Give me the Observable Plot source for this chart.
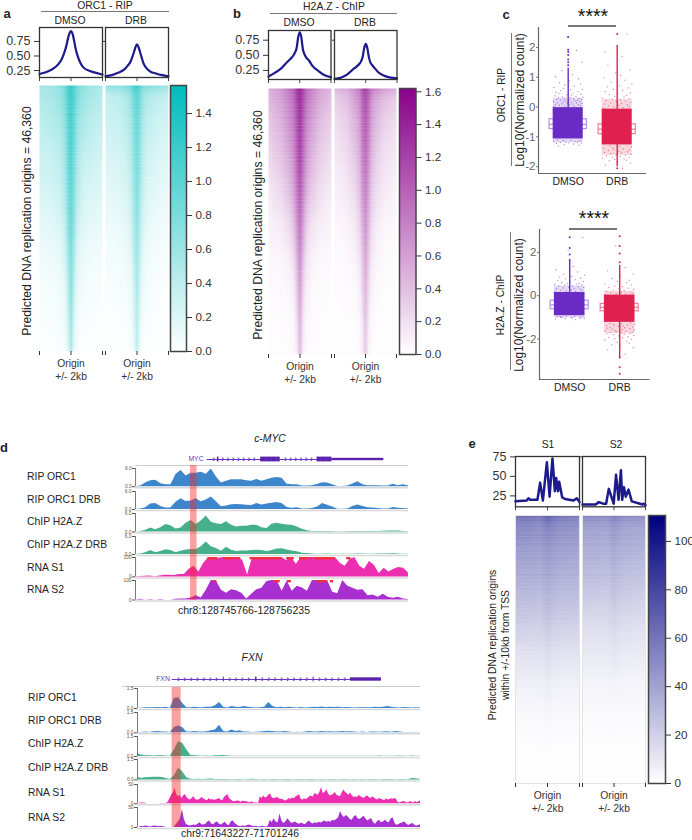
<!DOCTYPE html>
<html><head><meta charset="utf-8">
<style>
html,body{margin:0;padding:0;background:#fff}
#page{position:relative;width:692px;height:840px;overflow:hidden;font-family:"Liberation Sans",Arial,sans-serif;color:#222}
.lb{position:absolute;white-space:pre;line-height:1;transform:translate(-50%,-50%)}
.ln{position:absolute;background:#777}
</style>
<script src="https://cdn.jsdelivr.net/npm/d3@7"></script>
<script src="https://cdn.jsdelivr.net/npm/@observablehq/plot@0.6"></script>
</head><body><div id="page"></div>
<script>
// ---------- profile values ----------
const profX=[-2000,-1600,-1200,-800,-600,-400,-300,-200,-100,0,100,200,300,400,600,800,1200,1600,2000];
const orcDmsoProf=[.19,.22,.27,.36,.44,.58,.67,.79,.89,.93,.88,.76,.62,.52,.38,.30,.24,.21,.18];
const orcDrbProf=[.15,.17,.21,.27,.33,.41,.48,.56,.65,.70,.65,.56,.47,.38,.29,.24,.20,.17,.15];
const h2aDmsoProf=[.15,.21,.28,.39,.44,.50,.55,.62,.80,.88,.80,.60,.52,.47,.41,.33,.24,.17,.14];
const h2aDrbProf=[.11,.13,.18,.27,.31,.36,.40,.47,.62,.69,.62,.47,.38,.34,.28,.22,.16,.13,.12];
const s1ProfX=[-2000,-1300,-1190,-1090,-630,-460,-290,-40,130,310,460,540,660,730,920,1100,1630,1830,2000];
const s1Prof=[18,19,22,20,20,42,19,68,24,73,31,48,31,43,23,21,19,22,17];
const s2ProfX=[-2000,-1170,-960,-690,-500,-330,-20,130,290,440,520,630,750,920,1130,1810,1900,2000];
const s2Prof=[14,14,17,15,15,34,15,52,20,58,20,36,24,33,18,14,15,13];
const profTicks=[.25,.5,.75], s1Ticks=[25,50,75];

// ---------- heatmap grids (rows top to bottom, columns across the window) ----------
const heatX=[-2000,-1200,-700,-400,-200,0,200,400,700,1200,2000];
const heatRow=[0,.04,.12,.25,.38,.5,.62,.75,.88,1];
const orcDmsoHeat=[
[.55,.6,.7,.85,1.15,1.25,1.1,.85,.7,.6,.5],[.5,.55,.65,.8,1.1,1.2,1.05,.8,.65,.55,.45],
[.42,.48,.55,.7,1.0,1.15,.95,.68,.55,.45,.38],[.32,.36,.42,.58,.9,1.08,.85,.55,.4,.34,.28],
[.25,.28,.34,.5,.8,1.0,.75,.45,.3,.25,.2],[.17,.2,.25,.38,.7,.92,.65,.35,.22,.17,.14],
[.1,.12,.16,.26,.55,.82,.5,.22,.14,.1,.08],[.06,.07,.1,.16,.42,.72,.36,.14,.08,.06,.05],
[.04,.04,.06,.09,.28,.62,.22,.08,.05,.04,.03],[.02,.02,.03,.05,.15,.5,.12,.04,.02,.02,.02]];
const orcDrbHeat=[
[.65,.7,.8,.9,1.1,1.2,1.0,.8,.75,.7,.6],[.38,.42,.5,.65,.9,1.0,.85,.6,.5,.42,.36],
[.32,.36,.42,.55,.8,.92,.75,.5,.4,.33,.28],[.24,.27,.32,.45,.7,.85,.65,.4,.3,.25,.2],
[.17,.2,.24,.36,.6,.78,.55,.32,.22,.18,.14],[.11,.13,.17,.27,.5,.7,.45,.24,.15,.11,.09],
[.07,.08,.11,.18,.4,.6,.35,.16,.1,.07,.05],[.04,.05,.07,.11,.28,.52,.25,.1,.06,.04,.03],
[.03,.03,.04,.07,.2,.45,.16,.06,.04,.03,.02],[.01,.01,.02,.04,.12,.38,.09,.03,.02,.01,.01]];
const h2aDmsoHeat=[
[.5,.65,.85,1.0,1.25,1.4,1.2,.95,.8,.6,.45],[.45,.6,.8,.95,1.2,1.35,1.15,.9,.75,.55,.4],
[.35,.5,.7,.85,1.1,1.3,1.05,.8,.65,.45,.3],[.25,.38,.55,.72,1.0,1.2,.95,.68,.5,.33,.2],
[.15,.25,.4,.58,.85,1.05,.8,.52,.35,.22,.13],[.08,.14,.24,.4,.68,.9,.62,.35,.2,.12,.07],
[.05,.07,.12,.24,.5,.75,.44,.2,.1,.06,.04],[.03,.04,.06,.12,.34,.6,.28,.1,.05,.03,.02],
[.02,.02,.03,.06,.2,.5,.16,.05,.03,.02,.01],[.01,.01,.02,.03,.12,.42,.08,.03,.02,.01,.01]];
const h2aDrbHeat=[
[.45,.55,.7,.85,1.1,1.25,1.05,.85,.75,.6,.5],[.3,.42,.6,.72,1.0,1.15,.95,.7,.55,.42,.32],
[.22,.32,.48,.62,.9,1.05,.85,.6,.45,.3,.22],[.14,.22,.35,.5,.78,.95,.72,.47,.32,.2,.14],
[.08,.14,.24,.38,.65,.82,.6,.35,.22,.13,.08],[.05,.08,.14,.26,.52,.7,.47,.24,.13,.07,.05],
[.03,.05,.08,.16,.38,.58,.34,.15,.07,.04,.03],[.02,.03,.04,.09,.26,.48,.22,.08,.04,.02,.02],
[.01,.02,.02,.05,.16,.4,.12,.04,.02,.01,.01],[.01,.01,.01,.03,.1,.34,.07,.02,.01,.01,.01]];
const s1Heat=[
[62,62,60,60,65,70,66,62,60,58,56],[52,52,50,50,53,56,54,52,50,49,48],
[44,44,43,43,45,47,45,44,43,42,41],[34,34,33,33,35,37,35,34,33,32,32],
[24,24,23,23,25,27,25,24,23,23,22],[14,14,14,14,15,17,15,14,14,13,13],
[7,7,7,7,8,9,8,7,7,6.5,6.5],[2.5,2.5,2.5,2.5,3,3.5,3,2.5,2.5,2.5,2.5],
[.8,.8,.8,.8,1,1,1,.8,.8,.8,.8],[.2,.2,.2,.2,.2,.2,.2,.2,.2,.2,.2]];
const s2Heat=[
[52,52,50,50,54,58,54,52,50,50,48],[42,42,41,41,44,46,44,42,41,40,40],
[36,36,35,35,37,39,37,36,35,34,34],[27,27,26,26,28,30,28,27,26,25,25],
[17,17,17,17,18,20,18,17,17,16,16],[10,10,10,10,11,12,11,10,10,9.5,9.5],
[5,5,5,5,5.5,6,5.5,5,5,4.5,4.5],[2,2,2,2,2,2.5,2,2,2,2,2],
[.6,.6,.6,.6,.7,.7,.7,.6,.6,.6,.6],[.1,.1,.1,.1,.1,.1,.1,.1,.1,.1,.1]];
const stripeRows=[.013,.024,.033,.047,.058,.066,.079,.092,.101,.118,.127,.139,.151,.166,.174,.189,.203,.212,.228,.241,.252,.267,.281,.293,.304,.322,.337,.346,.361,.378,.392,.409,.421,.438,.452,.473,.491,.507,.526,.548,.571,.596,.623,.652,.688,.731];

// ---------- colour bar ticks ----------
const orcBarTicks=[0,.2,.4,.6,.8,1,1.2,1.4];
const h2aBarTicks=[0,.2,.4,.6,.8,1,1.2,1.4,1.6];
const rnaBarTicks=[0,20,40,60,80,100];

// ---------- scatter panels: summary [q1, median, q3], solid block [low, high], dense fringe [low, high] ----------
const groups=["DMSO","DRB"];
const orcBox=[[-.74,-.58,-.41],[-.91,-.74,-.58]];
const orcBlock=[[-1.07,-.02],[-1.27,-.07]];
const orcFringe=[[-1.2,.3],[-1.62,.25]];
const h2aBox=[[-.62,-.42,-.23],[-.72,-.54,-.38]];
const h2aBlock=[[-.92,.15],[-1.23,.03]];
const h2aFringe=[[-1.02,.45],[-1.75,.2]];
const jitter=[-.29,.12,-.07,.25,-.18,.03,.21,-.26,.09,-.13,.28,-.02,.17,-.22,.06,-.1,.24,-.3,.14,-.05,.19,-.16,.01,.27,-.24,.11,-.08,.22,-.2,.04,.3,-.12,.16,-.27,.07,-.03,.26,-.19,.1,-.25,.2,-.15,.05,.29,-.09];
const orcDmsoDots=[.02,.03,.04,.05,.06,.07,.08,.09,.1,.11,.12,.13,.14,.15,.16,.17,.18,.19,.2,.21,.22,.23,.24,.25,.26,.27,.28,.29,.3,.31,.33,.34,.36,.38,.4,.41,.43,.45,.47,.5,.52,.55,.58,.6,.63,.66,.7,.74,.78,.82,.88,.95,1.02,1.1,1.22,1.5,2.35,1.9,-1.1,-1.12,-1.13,-1.14,-1.15,-1.16,-1.17,-1.18,-1.19,-1.2,-1.21,-1.22,-1.24,-1.26,-1.28,-1.3];
const orcDrbDots=[-.04,-.02,0,.02,.04,.06,.08,.1,.12,.14,.16,.18,.2,.22,.24,.26,.28,.3,.33,.36,.39,.42,.45,.48,.52,.56,.6,.64,.68,.72,.78,.84,.9,.98,1.06,1.15,1.25,1.4,1.7,1.85,2.45,-1.3,-1.32,-1.34,-1.36,-1.38,-1.4,-1.42,-1.44,-1.46,-1.48,-1.5,-1.52,-1.54,-1.56,-1.58,-1.6,-1.62,-1.64,-1.66,-1.68,-1.7,-1.72,-1.74,-1.76,-1.78,-1.8,-1.84,-1.88,-1.95,-2.05];
const h2aDmsoDots=[.18,.2,.22,.24,.26,.28,.3,.32,.34,.36,.38,.4,.42,.44,.46,.48,.5,.52,.54,.56,.58,.6,.63,.66,.7,.74,.78,.82,.86,.9,.95,1,1.1,1.2,1.35,2.1,2.7,-.95,-.96,-.97,-.98,-1,-1.02,-1.04,-1.06,-1.08,-1.1,-.95,-.97,-.99,-1.01,-1.05];
const h2aDrbDots=[.06,.08,.1,.12,.14,.16,.18,.2,.23,.26,.29,.32,.35,.38,.42,.46,.5,.55,.6,.66,.72,.8,.9,1,1.15,1.3,2.3,-1.26,-1.28,-1.3,-1.32,-1.34,-1.36,-1.38,-1.4,-1.42,-1.44,-1.46,-1.48,-1.5,-1.52,-1.54,-1.56,-1.58,-1.6,-1.62,-1.64,-1.66,-1.68,-1.7,-1.72,-1.74,-1.76,-1.78,-1.8,-1.83,-1.86,-1.89,-1.92,-1.95,-1.98,-2.02,-2.06,-2.1,-2.15,-2.2,-2.26,-2.32,-2.4,-2.5,-2.7];
const orcDmsoSpineDots=[1.4,1.5,1.6,1.75,1.85,1.92,2.35];
const orcDrbSpineDots=[2.05,2.45,-2.05];
const h2aDmsoSpineDots=[1.65,1.9,2.2,2.7];
const h2aDrbSpineDots=[1.55,1.95,2.3,2.75,-2.85,-3.3,-3.6];
const stars="****";

// ---------- genome tracks ----------
const mycStart=128745766, mycEnd=128756235, fxnStart=71643227, fxnEnd=71701246;
const mycHi=[2.11,2.36], fxnHi=[7.1,8.96];
const mycRip=[0,.2,1.2,2,2.1,1,.6,.6,4,5.3,3.5,4.4,4.4,4.8,4.1,5.8,3.2,1.2,1.8,2.3,2.3,2.3,2,1.8,2.4,1.8,2.3,2.8,3,2.8,.8,.6,.6,.2,.2,.3,.7,1.3,1.2,.6,.1,.1,.2,.9,1.6,.6,.3,.3,.3,.2,.2,.8,.3,.6,.3];
const mycRipDrb=[0,.2,.6,1.8,2,1,.5,.5,2.4,3.6,2.7,2.8,3.6,2.6,3.2,4.2,2.6,.9,1.2,1.6,1.7,1.6,1.4,1.3,2,1.5,1.8,2.1,2.3,2,.7,.4,.6,.2,.2,.3,.8,2,1.4,.8,.1,.05,.2,1,1.5,1,.6,.5,.3,.2,.2,.7,.4,.3,.2];
const mycChip=[0,.2,.5,1.3,.7,1.4,2.4,2,1,1.3,2.8,3.7,2.4,3.6,5.2,3.2,2.7,2.4,3.3,2.2,1.6,1.9,1.9,2.2,2.2,1.4,1.1,2.5,2.8,2.5,2.3,2.2,1.6,.9,.4,.2,.2,.2,.2,.15,.1,.1,.15,.2,.2,.2,.15,.15,.2,.25,.3,.35,.3,.15,.1];
const mycChipDrb=[0,.2,.6,1.3,.6,1,1.6,1.3,.6,1.1,1.5,1.7,1.7,2.6,4.2,2.6,2,1.1,2.4,1.4,1,1.2,1.2,1.3,1.4,1.3,1,1.3,1.8,1.9,1.5,1.2,.9,.4,.3,.2,.1,.1,.15,.1,.1,.05,.1,.1,.15,.15,.1,.1,.15,.2,.2,.25,.2,.1,.05];
const mycS1=[1,2,3,4,1,5,8,8,7,12,12,40,55,25,70,100,100,95,100,100,100,100,85,10,100,100,100,100,100,100,100,85,100,65,100,100,100,100,100,100,100,100,70,55,90,100,55,40,80,60,18,45,25,40,48,45,20];
const mycS2=[0,4,0,3,0,3,0,0,4,5,5,10,22,10,50,100,98,50,35,52,48,35,5,30,53,60,95,100,100,45,97,45,70,62,45,100,100,100,100,40,32,100,70,60,50,52,22,26,14,30,14,9,14,5,2];
const mycS1Clip=[[2.78,3.16],[3.37,3.78],[3.86,4.04],[4.39,5.60],[5.80,6.09],[6.29,6.60],[6.66,6.77],[6.88,7.65],[8.10,8.26]];
const mycS2Clip=[[2.99,3.12],[5.29,5.55],[5.83,5.98],[6.96,7.34],[7.47,7.6]];
const fxnRip=[0,.02,.05,.05,.05,.08,.05,.1,.02,.75,.8,.4,.05,.05,.1,.06,.05,.1,.1,.2,.45,.1,.03,.15,.1,.08,.15,.1,.05,.03,.05,.1,.45,.15,.05,.1,.05,.1,.05,.03,.08,.03,.05,.1,.08,.12,.06,.1,.08,.1,.05,.08,.06,.03,.05,.06,.05,.05,.1,.08,.1,.15,.1,.05,.03,.08,.05,.04,.05,.03];
const fxnRipDrb=[.02,.03,.05,.03,.08,.1,.05,.05,.03,.4,.5,.4,.05,.06,.1,.06,.05,.08,.15,.2,.55,.1,.05,.2,.1,.15,.06,.05,.03,.04,.05,.1,.12,.1,.06,.05,.1,.05,.03,.04,.03,.05,.1,.06,.05,.1,.06,.08,.05,.06,.1,.06,.08,.05,.03,.05,.03,.05,.06,.04,.05,.08,.04,.1,.05,.03,.03,.02,.03,.02];
const fxnChip=[.2,.12,.05,.06,.04,.05,.05,.03,.02,.5,1.1,1.0,.5,.08,.06,.03,.02,.03,.02,.05,.06,.07,.03,.02,.01,.02,.01,.02,.01,.02,.02,.01,.02,.01,.02,.02,.01,.02,.02,.01,.02,.01,.01,.02,.01,.02,.02,.01,.02,.02,.01,.02,.01,.01,.02,.02,.01,.02,.01,.03,.02,.01,.02,.02,.03,.02,.01,.03,.02,.02];
const fxnChipDrb=[.15,.12,.15,.18,.2,.2,.18,.1,.03,.3,.85,.6,.15,.05,.03,.05,.02,.04,.06,.03,.03,.02,.02,.01,.02,.02,.01,.02,.05,.02,.01,.02,.01,.02,.02,.01,.03,.02,.01,.02,.02,.01,.02,.02,.01,.02,.01,.02,.02,.01,.03,.02,.01,.02,.01,.02,.01,.02,.02,.01,.02,.03,.02,.01,.02,.02,.01,.1,.08,.03];
const fxnS1=[1,1,2,2,2,1,0,0,0,0,0,0,0,0,1,1,1,1,4,13,22,28,40,24,18,22,14,20,24,16,12,10,14,18,12,9,10,13,16,12,10,8,14,10,11,9,10,12,14,9,8,16,20,24,14,10,6,5,6,8,6,4,7,5,6,4,3,5,3,2,2,1,18,14,20,15,17,22,26,16,13,15,16,14,11,12,9,7,10,14,12,15,13,18,20,24,12,9,13,11,14,18,20,17,27,24,22,30,42,26,30,36,26,20,22,24,30,22,20,18,28,36,30,26,22,28,20,16,18,16,22,18,16,14,18,20,16,14,18,15,12,10,14,12,10,8,13,10,11,13,12,14,11,3,3,4,6,5,3,2,6,4,2,6,3,5,7];
const fxnS2=[0,0,3,2,4,3,2,1,3,4,3,2,3,2,1,0,0,0,0,1,8,14,22,45,20,8,5,4,5,6,5,8,12,7,6,8,14,16,9,7,12,14,8,6,10,13,7,5,14,17,10,6,3,2,4,3,4,6,5,3,2,3,1,2,3,2,1,3,18,12,22,14,12,34,16,10,14,22,16,10,12,14,10,8,11,9,7,12,16,11,9,12,10,13,11,14,16,13,15,13,18,16,20,24,40,30,25,30,26,20,18,26,30,22,20,24,28,22,16,20,22,12,8,15,18,12,14,18,14,12,22,24,10,5,8,10,12,14,8,5,8,10,6,3,5,7];
const mycExons=[[3.14,3.2,2],[4.8,5.55,2],[6.96,7.53,2],[7.53,9.52,1]];
const mycGene=[2.75,9.52];
const mycChevrons=[3.0,3.35,3.55,3.75,3.95,4.15,4.35,4.55,5.0,5.2,5.4,5.75,5.95,6.15,6.35,6.55,6.75,7.1,7.3];
const fxnExons=[[17.6,17.8,2],[24.2,24.5,2],[36,36.2,2],[43.65,50,1.4]];
const fxnGene=[7.1,50];
const fxnChevrons=[8.4,9.7,11,12.3,13.6,14.9,16.2,18.9,20.2,21.5,22.8,25.6,26.9,28.2,29.5,30.8,32.1,33.4,34.7,37.3,38.6,39.9,41.2,42.5];

const trackLabels=["RIP ORC1","RIP ORC1 DRB","ChIP H2A.Z","ChIP H2A.Z DRB","RNA S1","RNA S2"];

// ---------- layout helpers ----------
const page=document.getElementById("page");
const FONT='"Liberation Sans",Arial,sans-serif';
function put(x0,y0,x1,y1,o,m={}){
  const {l=0,r=0,t=0,b=0}=m;
  const p=Plot.plot({width:x1-x0+l+r,height:y1-y0+t+b,marginLeft:l,marginRight:r,marginTop:t,marginBottom:b,
    style:{position:"absolute",left:(x0-l)+"px",top:(y0-t)+"px",background:"transparent",overflow:"visible",fontFamily:FONT,maxWidth:"none"},
    ...o,x:{axis:null,...o.x},y:{axis:null,...o.y}});
  page.appendChild(p);return p;
}
function text(s,x,y,{size=10.4,rot=0,bold=false,italic=false,color="#222",left=false}={}){
  const d=document.createElement("div");d.className="lb";d.textContent=s;
  d.style.left=x+"px";d.style.top=y+"px";d.style.fontSize=size+"px";d.style.color=color;
  if(bold)d.style.fontWeight="700";if(italic)d.style.fontStyle="italic";
  if(rot)d.style.transform=`translate(-50%,-50%) rotate(${rot}deg)`;
  if(left)d.style.transform="translate(0,-50%)";
  page.appendChild(d);
}
function line(x,y,w,h,c){const d=document.createElement("div");d.className="ln";
  d.style.cssText=`left:${x}px;top:${y}px;width:${w}px;height:${h}px`+(c?`;background:${c}`:"");page.appendChild(d);}

const LINE="#1c1a8c";
function profile(x0,y0,x1,y1,xs,ys,dom,ticks,labelled,fmt,sw=2.2){
  put(x0,y0,x1,y1,{x:{domain:[-2000,2000]},y:{domain:dom},
    marks:[
      Plot.line(xs.map((x,i)=>({x,y:ys[i]})),{x:"x",y:"y",stroke:LINE,strokeWidth:sw,curve:sw<2.4?"monotone-x":"linear"}),
      Plot.axisX([-2000,0,2000],{tickSize:4,tickFormat:()=>"",label:null,stroke:"#444"}),
      labelled?Plot.axisY(ticks,{tickSize:5,tickFormat:fmt,fontSize:12.5,label:null,stroke:"#333",fill:"#333",tickPadding:4})
              :Plot.axisY([ticks[ticks.length-1]],{tickSize:2,tickFormat:()=>"",label:null,stroke:"#333"}),
      Plot.frame({stroke:"#333",strokeWidth:1.3})
    ]},{l:38,b:6,r:2});
}
function heat(x0,y0,x1,y1,matrix,max,col,edge){
  const pts=matrix.flatMap((row,j)=>row.map((v,i)=>({x:heatX[i],y:heatRow[j],v})));
  put(x0,y0,x1,y1,{x:{domain:[-2000,2000]},y:{domain:[1,0]},
    color:{type:"linear",domain:[0,max],range:["white",col]},
    marks:[
      Plot.raster(pts,{x:"x",y:"y",fill:"v",interpolate:"barycentric",x1:-2000,x2:2000,y1:0,y2:1}),
      Plot.ruleY(stripeRows,{stroke:"white",strokeOpacity:.1}),
      edge?Plot.frame({stroke:"#e4e4e4",strokeWidth:1}):null,
      Plot.axisX([-2000,0,2000],{tickSize:4,tickPadding:3,fontSize:10.3,label:null,stroke:"#333",fill:"#333",lineHeight:1.2,
        tickFormat:d=>d===0?"Origin\n+/- 2kb":""}),
    ]},{b:34,l:1,r:1});
}
function colorBar(x0,y0,x1,y1,max,col,ticks,fmt){
  put(x0,y0,x1,y1,{x:{domain:[0,1]},y:{domain:[0,max]},
    color:{type:"linear",domain:[0,max],range:["white",col]},
    marks:[
      Plot.raster({fill:(x,y)=>y,x1:0,x2:1,y1:0,y2:max}),
      Plot.frame({stroke:"#444",strokeWidth:1.5}),
      Plot.axisY(ticks,{anchor:"right",tickSize:5,tickPadding:4,fontSize:11.7,label:null,stroke:"#333",fill:"#333",tickFormat:fmt}),
    ]},{r:30,t:4,b:6,l:1});
}
function scatter(x0,y0,x1,y1,xDom,yDom,yTicks,box,block,fringe,dots,spineMarks,cols,pale){
  const pos=[1,2];
  const w=.306, bw=.38;
  const bx=groups.map((g,i)=>({x1:pos[i]-bw,x2:pos[i]+bw,q1:box[i][0],q3:box[i][2],med:box[i][1],c:pale[i]}));
  const bl=groups.map((g,i)=>({x1:pos[i]-w,x2:pos[i]+w,lo:block[i][0],hi:block[i][1],c:cols[i]}));
  const fr=groups.map((g,i)=>({x1:pos[i]-w,x2:pos[i]+w,lo:fringe[i][0],hi:fringe[i][1],c:cols[i]}));
  const pts=dots.flatMap((list,i)=>list.map((y,k)=>({x:pos[i]+jitter[k%jitter.length],y,c:cols[i]})));
  put(x0,y0,x1,y1,{x:{domain:xDom},y:{domain:yDom},color:{type:"identity"},
    marks:[
      Plot.rect(bx,{x1:"x1",x2:"x2",y1:"q1",y2:"q3",fill:"white",stroke:"c",strokeWidth:1.2}),
      Plot.ruleY(bx,{x1:"x1",x2:"x2",y:"med",stroke:"c",strokeWidth:1.2}),
      Plot.rect(fr,{x1:"x1",x2:"x2",y1:"lo",y2:"hi",fill:"c",fillOpacity:.18}),
      Plot.dot(pts,{x:"x",y:"y",r:.65,fill:"c",fillOpacity:.6}),
      Plot.rect(bl,{x1:"x1",x2:"x2",y1:"lo",y2:"hi",fill:"c"}),
      ...spineMarks,
      Plot.axisY(yTicks,{tickSize:2,fontSize:11.5,label:null,stroke:"#777",fill:"#666",tickPadding:1,tickFormat:d=>String(d)}),
      Plot.axisX(pos,{tickSize:0,tickPadding:4,fontSize:10.5,label:null,fill:"#222",tickFormat:d=>groups[d-1]}),
      Plot.ruleX([xDom[0]],{stroke:"#666",strokeWidth:1.2}),
      Plot.ruleY([yDom[0]],{stroke:"#666",strokeWidth:1.2}),
    ]},{l:20,b:16,r:2});
}
function area(values,span){
  const n=values.length-1;
  return values.map((v,i)=>({x:i/n*span,y:v}));
}
function track(x0,x1,top,base,values,span,max,color,clip){
  put(x0,top,x1,base,{x:{domain:[0,span]},y:{domain:[0,max]},
    marks:[
      Plot.ruleY([0],{stroke:"#d8d8d8",strokeWidth:1.5,dy:1}),
      Plot.areaY(area(values,span),{x:"x",y:"y",fill:color}),
      clip?Plot.rect(clip,{x1:d=>d[0],x2:d=>d[1],y1:max*.88,y2:max,fill:"#f2303a"}):null,
      Plot.ruleX([0],{stroke:"#555",strokeWidth:.8}),
      Plot.axisY([0,max],{tickSize:3,tickPadding:1,fontSize:4.8,label:null,stroke:"#555",fill:"#555",
        tickFormat:d=>max<10?d.toFixed(1):String(d)}),
    ]},{l:16,b:2,t:2});
}
function gene(x0,x1,y,span,g,exons,chev){
  put(x0,y-4,x1,y+4,{x:{domain:[0,span]},y:{domain:[-1,1]},
    marks:[
      Plot.ruleY([0],{x1:g[0],x2:g[1],stroke:"#6a35c4",strokeWidth:1}),
      Plot.rect(exons,{x1:d=>d[0],x2:d=>d[1],y1:d=>-d[2]*.3,y2:d=>d[2]*.3,fill:"#5a22ad"}),
      Plot.text(chev,{x:d=>d,y:()=>0,text:()=>"›",fill:"#6a35c4",fontSize:9,fontWeight:700}),
    ]});
}
function highlight(x0,x1,top,base,span,hi){
  put(x0,top,x1,base,{x:{domain:[0,span]},y:{domain:[0,1]},
    marks:[Plot.rect([hi],{x1:d=>d[0],x2:d=>d[1],y1:0,y2:1,fill:"#f52c2c",fillOpacity:.45})]});
}

// ---------- panel a ----------
const fmt2=d=>d.toFixed(2), fmt1=d=>d.toFixed(1);
const TEAL="#00bcbc", MAG="#8b008b", NAVY="#000080";
text("a",7,13,{size:13,bold:true});
text("ORC1 - RIP",105,5.5);line(41,11,128,1);
text("DMSO",70,21);text("DRB",136,21);
const orcDom=[.13,.99];
profile(39,27,102,77,profX,orcDmsoProf,orcDom,profTicks,true,fmt2);
profile(104.5,27,167.5,77,profX,orcDrbProf,orcDom,profTicks,false,fmt2);
heat(39,85,102,351,orcDmsoHeat,1.565,TEAL);
heat(105,85,168,351,orcDrbHeat,1.565,TEAL);
colorBar(170,85,186,351,1.565,TEAL,orcBarTicks,fmt1);
text("Predicted DNA replication origins = 46,360",27,221,{size:12.2,rot:-90});

// ---------- panel b ----------
text("b",237,13,{size:13,bold:true});
text("H2A.Z - ChIP",334,6.5);line(270,13,127,1);
text("DMSO",299,23);text("DRB",365,23);
const h2aDom=[.10,.91];
profile(268,30,330.5,79,profX,h2aDmsoProf,h2aDom,profTicks,true,fmt2);
profile(333.5,30,396,79,profX,h2aDrbProf,h2aDom,profTicks,false,fmt2);
heat(268,88,331,354,h2aDmsoHeat,1.62,MAG);
heat(334,88,396,354,h2aDrbHeat,1.62,MAG);
colorBar(398.5,88,415,354,1.62,MAG,h2aBarTicks,fmt1);
text("Predicted DNA replication origins = 46,360",258,225,{size:12.2,rot:-90});

// ---------- panel c ----------
const PUR="#6a2bc4", RED="#e0214f", PUR2="#b592e0", RED2="#ef7f9a";
text("c",506,14,{size:13,bold:true});
text(stars,593,17,{size:19.5,color:"#111"});line(568,25,48,1.5);
text("ORC1 - RIP",502,95,{size:10.2,rot:-90});line(511,33,1,133);
text("Log10(Normalized count)",521,100,{size:11.9,rot:-90});
const spineOrc=[
  Plot.ruleX([1],{y1:-.02,y2:1.3,stroke:PUR,strokeWidth:1.4}),
  Plot.dot(orcDmsoSpineDots,{x:()=>1,y:d=>d,r:1,fill:PUR}),
  Plot.ruleX([2],{y1:-2,y2:2,stroke:RED,strokeWidth:1.4}),
  Plot.dot(orcDrbSpineDots,{x:()=>2,y:d=>d,r:1,fill:RED}),
];
scatter(538,27,646,173,[.394,2.598],[-2.23,2.67],[-2,-1,0,1,2],orcBox,orcBlock,orcFringe,[orcDmsoDots,orcDrbDots],spineOrc,[PUR,RED],[PUR2,RED2]);

text(stars,594,219,{size:19.5,color:"#111"});line(569,228,48,1.5);
text("H2A.Z - ChIP",501,305,{size:10.2,rot:-90});line(510,232,1,138);
text("Log10(Normalized count)",520,305,{size:11.9,rot:-90});
const spineH2a=[
  Plot.ruleX([1],{y1:.15,y2:1.6,stroke:PUR,strokeWidth:1.4}),
  Plot.dot(h2aDmsoSpineDots,{x:()=>1,y:d=>d,r:1,fill:PUR}),
  Plot.ruleX([2],{y1:-2.85,y2:1.4,stroke:RED,strokeWidth:1.4}),
  Plot.dot(h2aDrbSpineDots,{x:()=>2,y:d=>d,r:1,fill:RED}),
];
scatter(538.5,229,649,379,[.396,2.606],[-3.87,3.06],[-2,0,2],h2aBox,h2aBlock,h2aFringe,[h2aDmsoDots,h2aDrbDots],spineH2a,[PUR,RED],[PUR2,RED2]);

// ---------- panel d ----------
const BLUE="#3d86cb", GRN="#46b08b", PINK="#ec2fb0", VIO="#a82fd0";
text("d",4,447,{size:13,bold:true});
text("c-MYC",270,439,{size:10.4,italic:true});
const mycSpan=(mycEnd-mycStart)/1000;
text("MYC",196,459,{size:6.8,color:"#6a35c4"});
gene(135,408,459,mycSpan,mycGene,mycExons,mycChevrons);
line(135,465,273,.8,"#ccc");
const mycY=[[468.3,486.5],[491,509],[513,531.5],[536,554],[557.3,576.7],[580,599.5]];
const mycData=[mycRip,mycRipDrb,mycChip,mycChipDrb,mycS1,mycS2];
const mycLabelY=[477,500,522,545,568,590];
const trackCol=[BLUE,BLUE,GRN,GRN,PINK,VIO];
mycData.forEach((v,i)=>{
  track(135,408,mycY[i][0],mycY[i][1],v,mycSpan,i<4?6:100,trackCol[i],i==4?mycS1Clip:i==5?mycS2Clip:null);
  text(trackLabels[i],27,mycLabelY[i],{left:true});
});
highlight(135,408,464.7,599.5,mycSpan,mycHi);
text(`chr8:${mycStart}-${mycEnd}`,244,610,{size:10.5});

const fxnSpan=(fxnEnd-fxnStart)/1000;
text("FXN",163,679,{size:6.8,color:"#6a35c4"});
text("FXN",252,658,{size:10.4,italic:true});
gene(137,420,679,fxnSpan,fxnGene,fxnExons,fxnChevrons);
line(122,686,298,.6,"#ccc");
const fxnY=[[688.3,708.3],[711.7,732],[735.7,755.7],[759.3,779.7],[784,803.3],[807.3,827.3]];
const fxnData=[fxnRip,fxnRipDrb,fxnChip,fxnChipDrb,fxnS1,fxnS2];
const fxnLabelY=[698,721,744,768,793,818];
fxnData.forEach((v,i)=>{
  track(137,420,fxnY[i][0],fxnY[i][1],v,fxnSpan,i<4?1.5:50,trackCol[i],null);
  text(trackLabels[i],28,fxnLabelY[i],{left:true});
});
highlight(137,420,687,827,fxnSpan,fxnHi);
text(`chr9:${fxnStart}-${fxnEnd}`,240,834,{size:10.3});

// ---------- panel e ----------
text("e",472,443,{size:13,bold:true});
text("S1",548,445);text("S2",616,445);
const rnaDom=[11,75.5];
profile(515,455.7,579,506,s1ProfX,s1Prof,rnaDom,s1Ticks,true,d=>String(d),2.5);
profile(582,455.7,645,506,s2ProfX,s2Prof,rnaDom,s1Ticks,false,d=>String(d),2.5);
heat(515,515,579,783,s1Heat,110.7,NAVY,true);
heat(582,515,645,783,s2Heat,110.7,NAVY,true);
colorBar(648,515,665,783,110.7,NAVY,rnaBarTicks,d=>String(d));
text("Predicted DNA replication origins",493,645,{size:10.3,rot:-90});
text("within +/-10kb from TSS",506,645,{size:10.3,rot:-90});
</script>
</body></html>
